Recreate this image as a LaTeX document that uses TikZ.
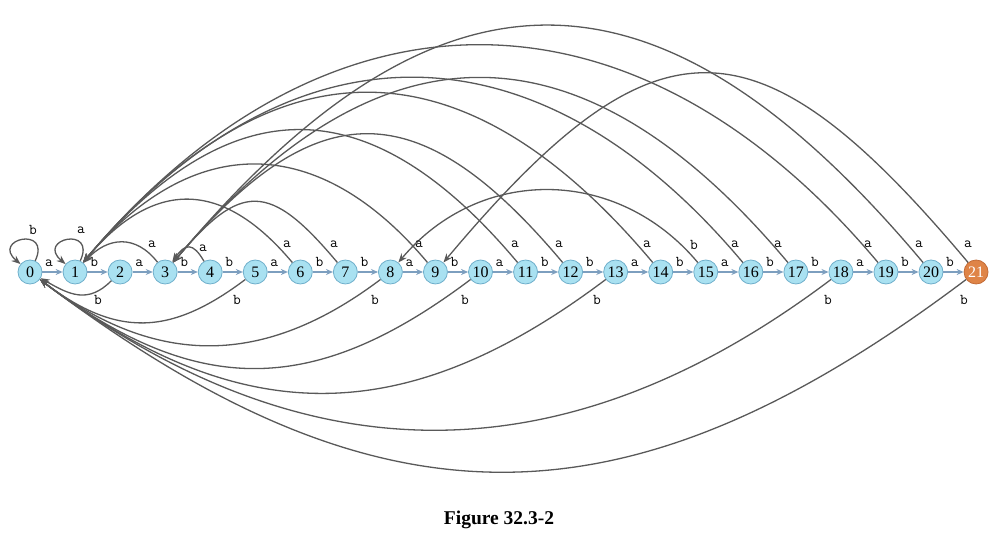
\documentclass[tikz,border=0pt]{standalone}
\usepackage{fontspec}
\setmainfont{Liberation Serif}
\usetikzlibrary{arrows.meta,calc}
\definecolor{nfill}{HTML}{A9E1F1}
\definecolor{ndraw}{HTML}{6FAFCB}
\definecolor{ofill}{HTML}{DF8447}
\definecolor{odraw}{HTML}{C36B36}
\definecolor{fwd}{HTML}{7D9FBF}
\definecolor{bk}{HTML}{595959}
\begin{document}
\begin{tikzpicture}[x=1pt,y=1pt,
  st/.style={circle,draw=ndraw,fill=nfill,line width=0.8pt,minimum size=24pt,inner sep=0pt,font=\fontsize{16}{16}\selectfont},
  acc/.style={st,draw=odraw,fill=ofill,text=white},
  fw/.style={draw=fwd,line width=1.4pt,-{Stealth[length=7pt,width=6pt]}},
  bkw/.style={draw=bk,line width=1.3pt,-{Stealth[length=9pt,width=7pt]}},
  lb/.style={font=\ttfamily\fontsize{15}{15}\selectfont,inner sep=0pt,anchor=base},
]
\useasboundingbox (0,0) rectangle (999,555);
\foreach \i in {0,...,20} \node[st] (n\i) at ({30+45.05*\i},283) {\i};
\node[acc] (n21) at ({30+45.05*21},283) {21};
% forward edges
\foreach \i/\c [evaluate=\i as \j using int(\i+1)] in {0/a,1/b,2/a,3/b,4/b,5/a,6/b,7/b,8/a,9/b,10/a,11/b,12/b,13/a,14/b,15/a,16/b,17/b,18/a,19/b,20/b}
  \draw[fw] (n\i) -- node[lb,pos=0.33,yshift=5.5pt]{\c} (n\j);
% self loops
\draw[bkw] (n0.65) .. controls +(65:39) and +(140:39) .. (n0.140);
\draw[bkw] (n1.65) .. controls +(65:39) and +(140:39) .. (n1.140);
\node[lb] (l0) at (33,320.5) {b};
\node[lb] (l1) at (81,321.5) {a};
% a back edges
\draw[bkw] (n3) to[out=128,in=47,looseness=1.23] (n1);
\draw[bkw] (n4) to[out=120,in=55,looseness=1.8] (n3);
\draw[bkw] (n6) to[out=130,in=50,looseness=1.34] (n1);
\draw[bkw] (n7) to[out=130,in=50,looseness=1.65] (n3);
\draw[bkw] (n9) to[out=130,in=50,looseness=1.27] (n1);
\draw[bkw] (n11) to[out=130,in=50,looseness=1.36] (n1);
\draw[bkw] (n12) to[out=130,in=50,looseness=1.47] (n3);
\draw[bkw] (n14) to[out=130,in=50,looseness=1.33] (n1);
\draw[bkw] (n15) to[out=130,in=50,looseness=1.08] (n8);
\draw[bkw] (n16) to[out=130,in=50,looseness=1.25] (n1);
\draw[bkw] (n17) to[out=130,in=50,looseness=1.34] (n3);
\draw[bkw] (n19) to[out=130,in=50,looseness=1.22] (n1);
\draw[bkw] (n20) to[out=130,in=50,looseness=1.41] (n3);
\draw[bkw] (n21) to[out=130,in=50,looseness=1.61] (n9);
% b back edges
\draw[bkw] (n2) to[out=225,in=-30,looseness=1.2] (n0);
\draw[bkw] (n5) to[out=217,in=-37,looseness=1.19] (n0);
\draw[bkw] (n8) to[out=217,in=-37,looseness=1.10] (n0);
\draw[bkw] (n10) to[out=217,in=-37,looseness=1.17] (n0);
\draw[bkw] (n13) to[out=217,in=-37,looseness=1.14] (n0);
\draw[bkw] (n18) to[out=217,in=-37,looseness=1.08] (n0);
\draw[bkw] (n21) to[out=217,in=-37,looseness=1.18] (n0);
% labels of back edges
\foreach \x/\c/\nm in {152/a/3,287/a/6,334/a/7,419/a/9,515/a/11,559/a/12,647/a/14,735/a/16,778/a/17,868/a/19,919/a/20,968/a/21}
  \node[lb] (la\nm) at (\x,307) {\c};
\node[lb] (la4) at (203,303) {a};
\node[lb] (lb15) at (694,305.5) {b};
\foreach \x/\nm in {98/2,237/5,375/8,465/10,597/13,828/18,964/21}
  \node[lb] (lb\nm) at (\x,250.5) {b};
% caption
\node[anchor=base,font=\bfseries\fontsize{19.5}{20}\selectfont,inner sep=0pt] (cap) at (499,31) {Figure 32.3-2};
\end{tikzpicture}
\end{document}
